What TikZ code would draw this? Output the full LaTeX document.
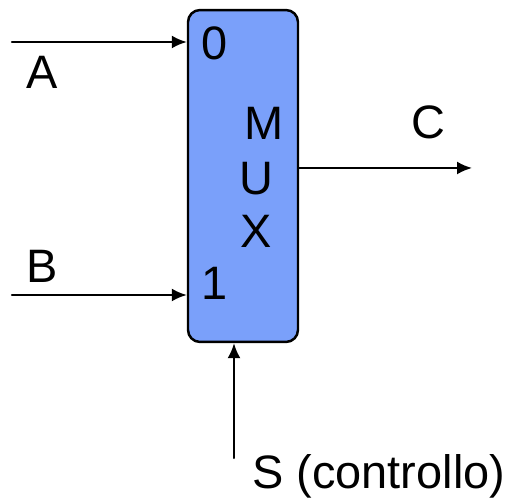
\documentclass[tikz,border=0pt]{standalone}
\usepackage{fontspec}
\setmainfont{Liberation Sans}
\usetikzlibrary{arrows.meta}
\definecolor{muxblue}{RGB}{122,160,250}
\begin{document}
\begin{tikzpicture}[x=0.02cm,y=-0.02cm,line cap=round,line join=round,
  >={Latex[length=0.3cm,width=0.26cm]},
  lbl/.style={anchor=base,inner sep=0pt,font=\fontsize{26.7}{32}\selectfont},
  wire/.style={line width=1.2pt,->}]
  \useasboundingbox (0,0) rectangle (512,499);
  \node[draw,fill=muxblue,line width=1.4pt,rounded corners=0.24cm,
    minimum width=2.2cm,minimum height=6.64cm,inner sep=0pt] (mux) at (243,176) {};
  \coordinate (inA) at (12,42);
  \coordinate (inB) at (12,295);
  \coordinate (outC) at (472,168);
  \coordinate (inS) at (234,458);
  \draw[wire] (inA) -- (inA -| mux.west);
  \draw[wire] (inB) -- (inB -| mux.west);
  \draw[wire] (outC -| mux.east) -- (outC);
  \draw[wire] (inS) -- (inS |- mux.south);
  \node[lbl] (labA) at (42,89) {A};
  \node[lbl] (labB) at (42,283) {B};
  \node[lbl] (labC) at (428,139) {C};
  \node[lbl] (zero) at (215,60) {0};
  \node[lbl] (one) at (215,300) {1};
  \node[lbl] (m) at (264,140) {M};
  \node[lbl] (u) at (256,195) {U};
  \node[lbl] (x) at (256,248) {X};
  \node[lbl,anchor=base west] (labS) at (252,489) {S (controllo)};
\end{tikzpicture}
\end{document}
